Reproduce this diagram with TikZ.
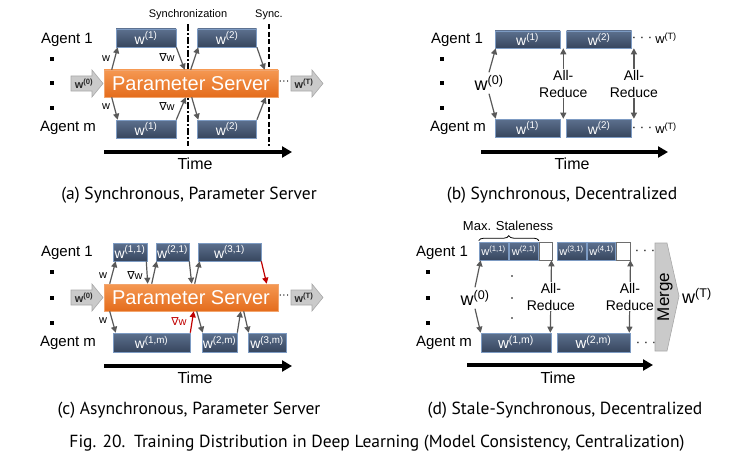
\documentclass[tikz,border=0pt]{standalone}
\usepackage{fontspec}
\setmainfont{Liberation Sans}
\newfontfamily\capfont{PT Sans}
\newfontfamily\nablafont{DejaVu Sans}
\usetikzlibrary{arrows.meta, positioning, calc, decorations.pathreplacing}
\definecolor{boxtop}{RGB}{92,112,142}
\definecolor{boxbot}{RGB}{55,70,94}
\definecolor{boxedge}{RGB}{125,155,195}
\definecolor{pstop}{RGB}{245,152,82}
\definecolor{psbot}{RGB}{228,108,28}
\definecolor{psedge}{RGB}{242,165,110}
\definecolor{garrowfill}{RGB}{202,202,202}
\definecolor{garrowedge}{RGB}{168,168,168}
\definecolor{conngray}{RGB}{89,89,89}
\definecolor{connred}{RGB}{192,0,0}
\definecolor{darktext}{RGB}{40,40,40}
\definecolor{edgegray}{RGB}{110,110,110}
\newcommand{\gradw}{{\nablafont ∇}w}

\begin{document}
\begin{tikzpicture}[x=1pt, y=-1pt,
    agent/.style={font=\fontsize{15}{15}\selectfont, inner sep=1pt},
    bullet/.style={fill=black, minimum size=4pt, inner sep=0pt},
    wbox/.style={draw=boxedge, line width=0.6pt, top color=boxtop, bottom color=boxbot, text=white, inner sep=0pt, minimum height=18pt, font=\fontsize{14}{14}\selectfont},
    sbox/.style={wbox, font=\fontsize{11}{11}\selectfont},
    ebox/.style={draw=edgegray, line width=0.6pt, fill=white, inner sep=0pt, minimum height=18pt},
    psbox/.style={draw=psedge, line width=0.6pt, top color=pstop, bottom color=psbot, text=white, inner sep=0pt, minimum width=174pt, minimum height=27pt, font=\fontsize{20}{20}\selectfont},
    garrow/.style={draw=garrowedge, fill=garrowfill, line width=0.6pt},
    gtext/.style={text=darktext, inner sep=0pt, font=\bfseries\fontsize{11}{11}\selectfont},
    conn/.style={draw=conngray, line width=1.2pt, -{Triangle[length=6pt,width=6pt]}},
    redconn/.style={conn, draw=connred},
    dconn/.style={draw=conngray, line width=1.2pt, {Triangle[length=6pt,width=6pt]}-{Triangle[length=6pt,width=6pt]}},
    reduce/.style={fill=white, align=center, inner sep=1pt, font=\fontsize{14}{17}\selectfont},
    tag/.style={inner sep=0pt, font=\fontsize{11}{11}\selectfont},
    bigw/.style={inner sep=1pt, outer sep=2pt, font=\fontsize{18}{18}\selectfont},
    vdot/.style={circle, fill=black, inner sep=0pt, minimum size=1.8pt},
    syncA/.style={line width=1.8pt, dash pattern=on 7pt off 2pt on 2pt off 2pt},
    syncB/.style={line width=1.8pt, dash pattern=on 5pt off 2.5pt},
    brace/.style={decorate, decoration={brace, amplitude=5pt}, line width=0.8pt},
    merge/.style={draw=garrowedge, fill=garrowfill, line width=0.6pt},
    timeline/.style={line width=4pt, -{Triangle[length=10pt,width=11pt]}},
    timelbl/.style={font=\fontsize{16}{16}\selectfont},
    capt/.style={font=\capfont\fontsize{17.5}{17.5}\selectfont}
]
\useasboundingbox (0,0) rectangle (731,460);

% (a) synchronous, parameter server
\node[agent] (aag1) at (67,40) {Agent 1};
\node[agent] (aagm) at (68,128) {Agent m};
\foreach \y [count=\i] in {59,83,108} \node[bullet] (ab\i) at (52,\y) {};
\node[tag] (asyn) at (188,15) {Synchronization};
\node[tag] (asyc) at (269,15) {Sync.};
\draw[syncA] ([yshift=-4pt]asyn.south) -- ++(0,122);
\draw[syncB] ([yshift=-4pt]asyn.south -| asyc) -- ++(0,122);
\node[psbox] (psa) at (191,83.5) {Parameter Server};
\node[wbox, minimum width=60pt] (a1w1) at (146,38) {w\textsuperscript{(1)}};
\node[wbox, minimum width=59pt, right=21pt of a1w1] (a1w2) {w\textsuperscript{(2)}};
\node[wbox, minimum width=60pt] (amw1) at (146,129) {w\textsuperscript{(1)}};
\node[wbox, minimum width=59pt, right=21pt of amw1] (amw2) {w\textsuperscript{(2)}};
\draw[conn] ($(psa.north west)+(8,0)$) -- ($(a1w1.south west)+(2,0)$);
\draw[conn] (a1w1.south east) -- ($(psa.north west)+(81,0)$);
\draw[conn] ($(psa.north west)+(87,0)$) -- ($(a1w2.south west)+(1,0)$);
\draw[conn] (a1w2.south east) -- ($(psa.north west)+(161,0)$);
\draw[conn] ($(psa.south west)+(8,0)$) -- ($(amw1.north west)+(2,0)$);
\draw[conn] (amw1.north east) -- ($(psa.south west)+(82,0)$);
\draw[conn] ($(psa.south west)+(88,0)$) -- ($(amw2.north west)+(1,0)$);
\draw[conn] (amw2.north east) -- ($(psa.south west)+(162,0)$);
\node[tag] (aw1) at (106,59) {w};
\node[tag] (ag1) at (167,58) {\gradw};
\node[tag] (aw2) at (106,107) {w};
\node[tag] (ag2) at (167,107) {\gradw};
\node[tag] (adots) at (284,83) {···};

% gray input / output arrows of (a) and (c)
\foreach \x/\y in {71/83.5, 291/83.5, 71/297.5, 291/297.5}
  \draw[garrow] (\x,\y-7.5) -- ++(21,0) -- ++(0,-6) -- ++(11,13.5) -- ++(-11,13.5) -- ++(0,-6) -- ++(-21,0) -- cycle;
\node[gtext] (aw0) at (84,83.5) {w\textsuperscript{(0)}};
\node[gtext] (awT) at (304,83.5) {w\textsuperscript{(T)}};

\coordinate (at0) at (104,152);
\coordinate (at1) at (292,152);
\draw[timeline] (at0) -- (at1);
\node[timelbl] (atime) at (195,164) {Time};
\node[capt] (capa) at (189,195) {(a) Synchronous, Parameter Server};

% (b) synchronous, decentralized
\node[agent] (bag1) at (457,40) {Agent 1};
\node[agent] (bagm) at (458,128) {Agent m};
\foreach \y [count=\i] in {59,83,108} \node[bullet] (bb\i) at (442,\y) {};
\node[wbox, minimum width=65pt, minimum height=17pt] (b1w1) at (527.5,39.5) {w\textsuperscript{(1)}};
\node[wbox, minimum width=65pt, minimum height=17pt, right=6pt of b1w1] (b1w2) {w\textsuperscript{(2)}};
\node[wbox, minimum width=65pt] (bmw1) at (527.5,128) {w\textsuperscript{(1)}};
\node[wbox, minimum width=65pt, right=6pt of bmw1] (bmw2) {w\textsuperscript{(2)}};
\node[tag, font=\fontsize{13}{13}\selectfont] (b1dots) at (642,39) {· · ·};
\node[tag, font=\fontsize{13}{13}\selectfont] (b1wT) at (666,38) {w\textsuperscript{(T)}};
\node[tag, font=\fontsize{13}{13}\selectfont] (bmdots) at (642,129) {· · ·};
\node[tag, font=\fontsize{13}{13}\selectfont] (bmwT) at (666,128) {w\textsuperscript{(T)}};
\node[bigw] (bw0) at (489,83) {w\textsuperscript{(0)}};
\draw[conn] (bw0.north) -- ($(b1w1.south west)+(1,0)$);
\draw[conn] (bw0.south) -- ($(bmw1.north west)+(1,0)$);
\draw[dconn] ($(b1w1.south east)!0.5!(b1w2.south west)$) -- node[reduce] (bar1) {All-\\Reduce} ($(bmw1.north east)!0.5!(bmw2.north west)$);
\draw[dconn] ($(b1w2.south east)+(2,0)$) -- node[reduce] (bar2) {All-\\Reduce} ($(bmw2.north east)+(2,0)$);
\coordinate (bt0) at (481,152);
\coordinate (bt1) at (668,152);
\draw[timeline] (bt0) -- (bt1);
\node[timelbl] (btime) at (572,164) {Time};
\node[capt] (capb) at (562,195) {(b) Synchronous, Decentralized};

% (c) asynchronous, parameter server
\node[agent] (cag1) at (67,253) {Agent 1};
\node[agent] (cagm) at (68,343) {Agent m};
\foreach \y [count=\i] in {272,298,323} \node[bullet] (cb\i) at (52,\y) {};
\node[psbox] (psc) at (191,297.5) {Parameter Server};
\node[wbox, minimum width=34pt] (c1w1) at (130,252) {w\textsuperscript{(1,1)}};
\node[wbox, minimum width=33pt] (c1w2) at (172.5,252) {w\textsuperscript{(2,1)}};
\node[wbox, minimum width=63pt] (c1w3) at (229.5,252) {w\textsuperscript{(3,1)}};
\node[wbox, minimum width=77pt, minimum height=19pt] (cmw1) at (151.5,342.5) {w\textsuperscript{(1,m)}};
\node[wbox, minimum width=35pt, minimum height=19pt] (cmw2) at (219.5,342.5) {w\textsuperscript{(2,m)}};
\node[wbox, minimum width=38pt, minimum height=19pt] (cmw3) at (267,342.5) {w\textsuperscript{(3,m)}};
\draw[conn] ($(psc.north west)+(6,0)$) -- ($(c1w1.south west)+(3,0)$);
\draw[conn] ($(c1w1.south east)+(-1,0)$) -- ($(psc.north west)+(44,0)$);
\draw[conn] ($(psc.north west)+(48,0)$) -- ($(c1w2.south west)+(1,0)$);
\draw[conn] (c1w2.south east) -- ($(psc.north west)+(88,0)$);
\draw[conn] ($(psc.north west)+(91,0)$) -- ($(c1w3.south west)+(2,0)$);
\draw[redconn] (c1w3.south east) -- ($(psc.north west)+(163,0)$);
\draw[conn] ($(psc.south west)+(6,0)$) -- ($(cmw1.north west)+(3,0)$);
\draw[redconn] (cmw1.north east) -- ($(psc.south west)+(90,0)$);
\draw[conn] ($(psc.south west)+(93,0)$) -- ($(cmw2.north west)+(1,0)$);
\draw[conn] (cmw2.north east) -- ($(psc.south west)+(137,0)$);
\draw[conn] ($(psc.south west)+(140,0)$) -- ($(cmw3.north west)+(1,0)$);
\node[tag] (cw1) at (103,276) {w};
\node[tag] (cg1) at (135,276) {\gradw};
\node[tag] (cw2) at (103,321) {w};
\node[tag, text=connred] (cg2) at (179,322) {\gradw};
\node[gtext] (cw0) at (84,297.5) {w\textsuperscript{(0)}};
\node[gtext] (cwT) at (304,297.5) {w\textsuperscript{(T)}};
\node[tag] (cdots) at (284,297) {···};
\coordinate (ct0) at (104,366);
\coordinate (ct1) at (292,366);
\draw[timeline] (ct0) -- (ct1);
\node[timelbl] (ctime) at (195,378) {Time};
\node[capt] (capc) at (189,410) {(c) Asynchronous, Parameter Server};

% (d) stale-synchronous, decentralized
\node[tag, font=\fontsize{13}{13}\selectfont] (dmax) at (508,226) {Max. Staleness};
\node[agent] (dag1) at (442,253) {Agent 1};
\node[agent] (dagm) at (444,343) {Agent m};
\foreach \y [count=\i] in {272,298,323} \node[bullet] (db\i) at (428,\y) {};
\node[sbox, minimum width=29pt] (d1w1) at (493.5,251) {w\textsuperscript{(1,1)}};
\node[sbox, minimum width=29pt, right=1pt of d1w1] (d1w2) {w\textsuperscript{(2,1)}};
\node[ebox, minimum width=13pt, right=0pt of d1w2] (d1e1) {};
\node[sbox, minimum width=29pt] (d1w3) at (571.5,251) {w\textsuperscript{(3,1)}};
\node[sbox, minimum width=28pt, right=1pt of d1w3] (d1w4) {w\textsuperscript{(4,1)}};
\node[ebox, minimum width=14pt, right=0pt of d1w4] (d1e2) {};
\node[wbox, minimum width=70pt, minimum height=19pt, font=\fontsize{15}{15}\selectfont] (dmw1) at (516,342.5) {w\textsuperscript{(1,m)}};
\node[wbox, minimum width=73pt, minimum height=19pt, font=\fontsize{15}{15}\selectfont] (dmw2) at (593.5,342.5) {w\textsuperscript{(2,m)}};
\draw[brace] ($(d1w1.north west)+(0,-1)$) -- ($(d1w2.north east)+(0,-1)$);
\node[tag, font=\fontsize{13}{13}\selectfont] (d1dots) at (645,252) {· · ·};
\node[tag, font=\fontsize{13}{13}\selectfont] (dmdots) at (646,344) {· · ·};
\foreach \y [count=\i] in {276,298,318} \node[vdot] (dv\i) at (512,\y) {};
\node[bigw] (dw0) at (475,298) {w\textsuperscript{(0)}};
\draw[conn] (dw0.north) -- ($(d1w1.south west)+(2,0)$);
\draw[conn] (dw0.south) -- (dmw1.north west);
\draw[dconn] ($(d1e1.south east)+(-1,0)$) -- node[reduce] (dar1) {All-\\Reduce} ($(dmw1.north east)+(-1,0)$);
\draw[dconn] (d1e2.south east) -- node[reduce] (dar2) {All-\\Reduce} ($(dmw2.north east)+(-1,0)$);
\draw[merge] (655,243) -- (667,243) -- (679,296) -- (667,351) -- (655,351) -- cycle;
\node[rotate=90, inner sep=0pt, font=\fontsize{17}{17}\selectfont] (dmerge) at (665,297) {Merge};
\node[bigw] (dwT) at (697,296) {w\textsuperscript{(T)}};
\coordinate (dt0) at (467,365);
\coordinate (dt1) at (653,365);
\draw[timeline] (dt0) -- (dt1);
\node[timelbl] (dtime) at (558,378) {Time};
\node[capt] (capd) at (565,410) {(d) Stale-Synchronous, Decentralized};

\node[capt] (fig) at (377,443) {Fig. 20.\enspace Training Distribution in Deep Learning (Model Consistency, Centralization)};
\end{tikzpicture}
\end{document}
